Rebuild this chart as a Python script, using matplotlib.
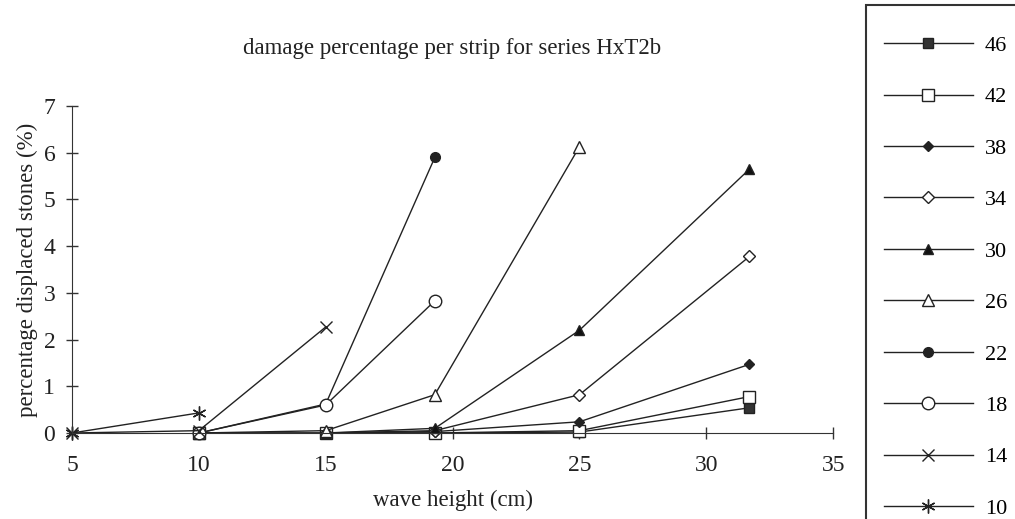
import matplotlib
matplotlib.use("Agg")
import matplotlib.pyplot as plt
from matplotlib.patches import Rectangle

plt.rcParams['font.family'] = ['Liberation Serif', 'DejaVu Serif']

# series data (wave height cm, % displaced stones)
labels = ['46', '42', '38', '34', '30', '26', '22', '18', '14', '10']
x46 = [10, 15, 19.3, 25, 31.7];  y46 = [0, 0, 0, 0.02, 0.54]
x42 = [10, 15, 19.3, 25, 31.7];  y42 = [0, 0, 0, 0.05, 0.78]
x38 = [15, 19.3, 25, 31.7];      y38 = [0, 0.03, 0.24, 1.47]
x34 = [15, 19.3, 25, 31.7];      y34 = [0, 0.05, 0.82, 3.78]
x30 = [15, 19.3, 25, 31.7];      y30 = [0, 0.1, 2.2, 5.65]
x26 = [10, 15, 19.3, 25];        y26 = [0, 0.05, 0.82, 6.13]
x22 = [10, 15, 19.3];            y22 = [0, 0.62, 5.9]
x18 = [10, 15, 19.3];            y18 = [0, 0.6, 2.83]
x14 = [5, 10, 15];               y14 = [0, 0.05, 2.27]
x10 = [5, 10];                   y10 = [0, 0.43]

xs = [x46, x42, x38, x34, x30, x26, x22, x18, x14, x10]
ys = [y46, y42, y38, y34, y30, y26, y22, y18, y14, y10]

# marker, size, face colour
styles = [('s', 7, '#333333'), ('s', 8, 'white'), ('D', 5, '#222222'),
          ('D', 6.5, 'white'), ('^', 7, '#111111'), ('^', 9, 'white'),
          ('o', 7, '#222222'), ('o', 9, 'white'), ('x', 9, 'none'),
          ((6, 2, 0), 10, 'none')]

fig = plt.figure(figsize=(10.15, 5.19), dpi=100)
ax = fig.add_axes([0.0709, 0.1657, 0.750, 0.630])

handles = []
for x, y, lab, (m, ms, fc) in zip(xs, ys, labels, styles):
    h, = ax.plot(x, y, color='#222222', lw=1.0, marker=m, markersize=ms,
                 markerfacecolor=fc, markeredgecolor='#222222',
                 markeredgewidth=1.0, label=lab, clip_on=False)
    handles.append(h)

ax.set_xlim(5, 35)
ax.set_ylim(0, 7)
ax.set_xticks([5, 10, 15, 20, 25, 30, 35])
ax.set_yticks(range(0, 8))
for s in ['top', 'right']:
    ax.spines[s].set_visible(False)
for s in ['left', 'bottom']:
    ax.spines[s].set_color('#333333')
ax.tick_params(direction='inout', length=8, width=1, colors='#333333',
               labelcolor='#222222', labelsize=17)
ax.tick_params(axis='x', pad=12)
ax.tick_params(axis='y', pad=8)

ax.set_xlabel('wave height (cm)', fontsize=16.5, color='#222222', labelpad=10)
ax.set_ylabel('percentage displaced stones (%)', fontsize=16.5, color='#222222',
              labelpad=4)
fig.text(0.445, 0.907, 'damage percentage per strip for series HxT2b',
         ha='center', va='center', fontsize=16.5, color='#222222')

# legend frame running off the right and bottom edges
fig.patches.append(Rectangle((0.853, -0.05), 0.2, 1.04, transform=fig.transFigure,
                             fill=False, edgecolor='#333333', lw=1.5))
fig.legend(handles=handles, loc='upper left', bbox_to_anchor=(0.862, 0.949),
           frameon=False, fontsize=16, labelspacing=1.39, handlelength=4.0,
           handletextpad=0.55, borderaxespad=0)

fig.savefig('out.png', dpi=100)
